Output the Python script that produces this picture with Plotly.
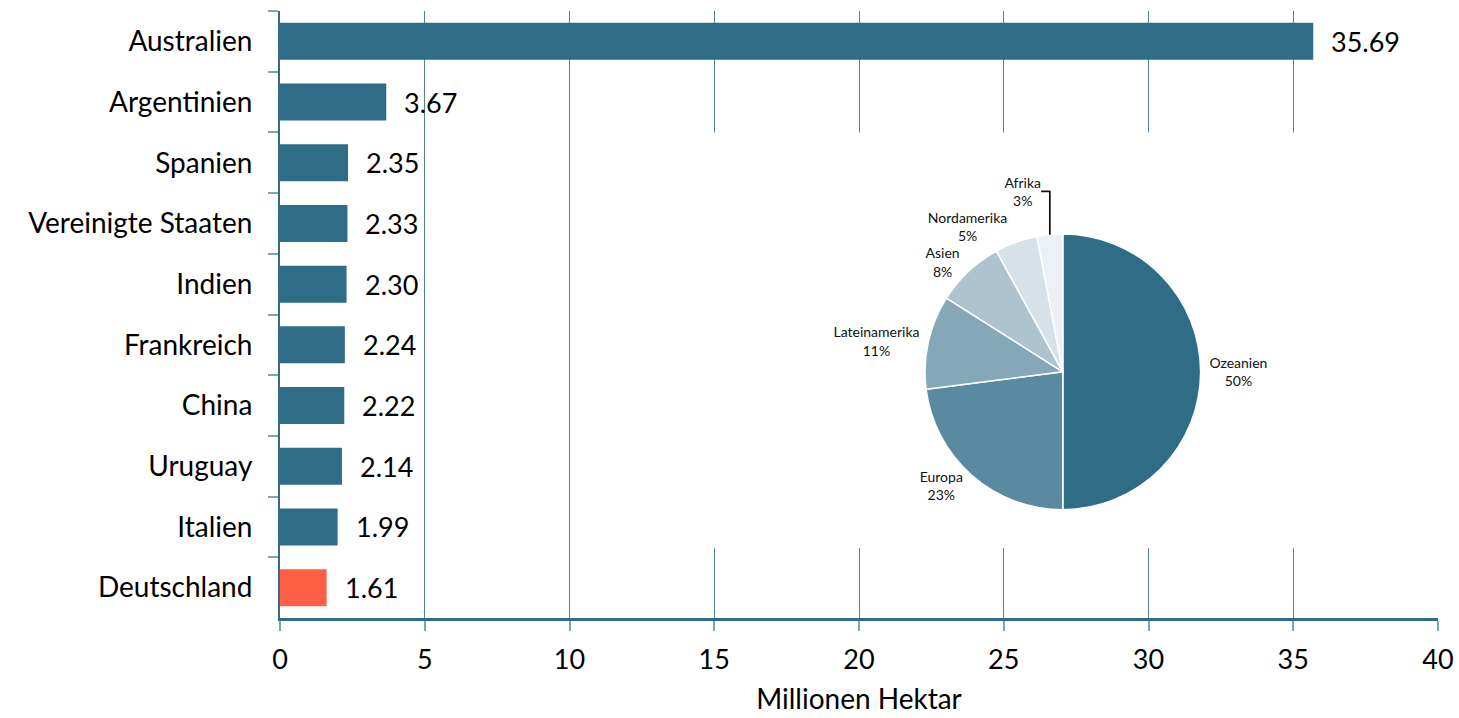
import plotly.graph_objects as go

countries = ["Australien", "Argentinien", "Spanien", "Vereinigte Staaten", "Indien",
             "Frankreich", "China", "Uruguay", "Italien", "Deutschland"]
hectares = [35.69, 3.67, 2.35, 2.33, 2.30, 2.24, 2.22, 2.14, 1.99, 1.61]

regions = ["Ozeanien", "Europa", "Lateinamerika", "Asien", "Nordamerika", "Afrika"]
region_share = [50, 23, 11, 8, 5, 3]

x_ticks = [0, 5, 10, 15, 20, 25, 30, 35, 40]

TEAL = "#2f6c85"
RED = "#ff5f45"
GRID = "#4f8299"
FONT = "Lato"

bar_colors = [RED if c == "Deutschland" else TEAL for c in countries]
pie_colors = ["#2f6c85", "#5a8aa0", "#84a8b8", "#adc4d0", "#d5e2e8", "#ebf1f4"]

fig = go.Figure()
fig.add_trace(go.Bar(
    x=hectares, y=countries, orientation="h",
    marker=dict(color=bar_colors, line=dict(width=0)),
    showlegend=False, hoverinfo="x+y",
))

fig.add_trace(go.Pie(
    labels=regions, values=region_share,
    sort=False, direction="clockwise", rotation=0,
    marker=dict(colors=pie_colors, line=dict(color="white", width=1.5)),
    texttemplate="%{label}<br>%{percent:.0%}",
    textposition="outside",
    textfont=dict(family=FONT, size=14, color="#111111"),
    domain=dict(x=[0.557, 0.795], y=[0.178, 0.633]),
    showlegend=False, automargin=False,
))

annotations = []
for c, v in zip(countries, hectares):
    annotations.append(dict(
        x=v, y=c, xref="x", yref="y", text=f"{v:.2f}", showarrow=False,
        xanchor="left", yanchor="middle", xshift=16,
        font=dict(family=FONT, size=27, color="#000000"),
    ))

fig.update_layout(
    width=1459, height=718,
    margin=dict(l=280, r=21, t=11, b=100),
    paper_bgcolor="white", plot_bgcolor="white",
    font=dict(family=FONT, size=27, color="#000000"),
    bargap=0.39,
    annotations=annotations,
    shapes=[dict(type="rect", xref="x", yref="y", x0=12.5, x1=38, y0=1.5, y1=8.35,
                 fillcolor="white", line=dict(width=0), layer="between")],
    xaxis=dict(
        range=[0, 40], tickvals=x_ticks, ticktext=[str(t) for t in x_ticks],
        showgrid=True, gridcolor=GRID, gridwidth=1,
        showline=True, linecolor=TEAL, linewidth=2.5,
        ticks="outside", ticklen=10, tickcolor="#7fa4b5", tickwidth=1.5,
        zeroline=False, automargin=False,
        tickfont=dict(family=FONT, size=27, color="#000000"),
        ticklabelstandoff=6,
        title=dict(text="Millionen Hektar", standoff=16,
                   font=dict(family=FONT, size=28, color="#000000")),
    ),
    yaxis=dict(
        categoryorder="array", categoryarray=countries,
        autorange="reversed", range=[9.5, -0.5],
        tickson="boundaries", ticks="outside", ticklen=10, tickcolor="#7fa4b5", tickwidth=1.5,
        showline=True, linecolor=TEAL, linewidth=2,
        showgrid=False, zeroline=False, automargin=False,
        tickfont=dict(family=FONT, size=28, color="#000000"),
        ticklabelstandoff=20,
    ),
)

fig.write_html("out.html", config={"displayModeBar": False},
               post_script="document.body.style.margin='0';document.body.style.overflow='hidden';")
